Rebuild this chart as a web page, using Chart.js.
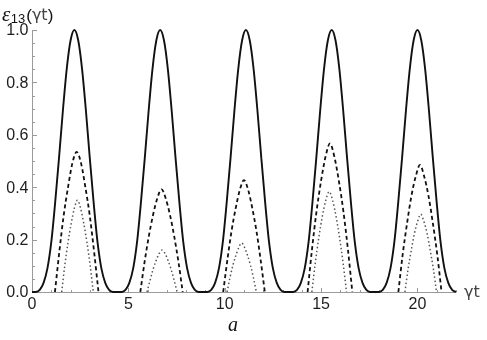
<!DOCTYPE html>
<html>
<head>
<meta charset="utf-8">
<script src="https://cdn.jsdelivr.net/npm/chart.js@4.4.1/dist/chart.umd.min.js"></script>
<style>
  html, body { margin: 0; padding: 0; background: #fff; }
  canvas { display: block; }
</style>
</head>
<body>
<canvas id="entanglement" width="487" height="340"></canvas>
<script>
// gamma*t values and epsilon_13
const solidT = [
    0, 0.2, 0.4, 0.6, 0.8, 1, 1.2, 1.4, 1.6, 1.8, 2, 2.2, 2.4, 2.6, 2.8, 3, 3.2, 3.4, 3.6, 3.8, 4, 4.2,
    4.45, 4.65, 4.85, 5.05, 5.25, 5.45, 5.65, 5.85, 6.05, 6.25, 6.45, 6.65, 6.85, 7.05, 7.25, 7.45, 7.65, 7.85, 8.05, 8.25, 8.45, 8.65,
    8.9, 9.1, 9.3, 9.5, 9.7, 9.9, 10.1, 10.3, 10.5, 10.7, 10.9, 11.1, 11.3, 11.5, 11.7, 11.9, 12.1, 12.3, 12.5, 12.7, 12.9, 13.1,
    13.35, 13.55, 13.75, 13.95, 14.15, 14.35, 14.55, 14.75, 14.95, 15.15, 15.35, 15.55, 15.75, 15.95, 16.15, 16.35, 16.55, 16.75, 16.95, 17.15, 17.35, 17.55,
    17.8, 18, 18.2, 18.4, 18.6, 18.8, 19, 19.2, 19.4, 19.6, 19.8, 20, 20.2, 20.4, 20.6, 20.8, 21, 21.2, 21.4, 21.6, 21.8, 22
]
const solidE = [
    0, 0, 0.008, 0.035, 0.09, 0.19, 0.34, 0.51, 0.69, 0.85, 0.96, 1, 0.96, 0.85, 0.69, 0.51, 0.34, 0.19, 0.09, 0.035, 0.008, 0,
    0, 0, 0.008, 0.035, 0.09, 0.19, 0.34, 0.51, 0.69, 0.85, 0.96, 1, 0.96, 0.85, 0.69, 0.51, 0.34, 0.19, 0.09, 0.035, 0.008, 0,
    0, 0, 0.008, 0.035, 0.09, 0.19, 0.34, 0.51, 0.69, 0.85, 0.96, 1, 0.96, 0.85, 0.69, 0.51, 0.34, 0.19, 0.09, 0.035, 0.008, 0,
    0, 0, 0.008, 0.035, 0.09, 0.19, 0.34, 0.51, 0.69, 0.85, 0.96, 1, 0.96, 0.85, 0.69, 0.51, 0.34, 0.19, 0.09, 0.035, 0.008, 0,
    0, 0, 0.008, 0.035, 0.09, 0.19, 0.34, 0.51, 0.69, 0.85, 0.96, 1, 0.96, 0.85, 0.69, 0.51, 0.34, 0.19, 0.09, 0.035, 0.008, 0
]

// null breaks the curve between pulses
const dashedT = [
    1.19, 1.42, 1.64, 1.87, 2.09, 2.32, 2.55, 2.77, 3.0, 3.22, 3.45, 4.5,
    5.62, 5.84, 6.06, 6.28, 6.50, 6.72, 6.94, 7.16, 7.38, 7.60, 7.82, 8.9,
    9.92, 10.14, 10.35, 10.57, 10.78, 11.0, 11.22, 11.43, 11.65, 11.86, 12.08, 13.3,
    14.30, 14.53, 14.76, 15.00, 15.23, 15.46, 15.69, 15.92, 16.16, 16.39, 16.62, 17.8,
    19.01, 19.23, 19.46, 19.68, 19.91, 20.13, 20.35, 20.58, 20.80, 21.03, 21.25
]
const dashedE = [
    0, 0.155, 0.29, 0.40, 0.49, 0.535, 0.49, 0.40, 0.29, 0.155, 0, null,
    0, 0.114, 0.212, 0.294, 0.357, 0.392, 0.357, 0.294, 0.212, 0.114, 0, null,
    0, 0.124, 0.231, 0.320, 0.389, 0.427, 0.389, 0.320, 0.231, 0.124, 0, null,
    0, 0.164, 0.306, 0.425, 0.516, 0.567, 0.516, 0.425, 0.306, 0.164, 0, null,
    0, 0.141, 0.262, 0.364, 0.441, 0.485, 0.441, 0.364, 0.262, 0.141, 0
]

const dottedT = [
    1.54, 1.70, 1.87, 2.03, 2.20, 2.36, 2.52, 2.69, 2.85, 3.02, 3.18, 4.5,
    5.97, 6.13, 6.28, 6.44, 6.59, 6.75, 6.91, 7.06, 7.22, 7.37, 7.53, 8.9,
    10.12, 10.27, 10.42, 10.58, 10.73, 10.88, 11.03, 11.18, 11.34, 11.49, 11.64, 13.3,
    14.52, 14.70, 14.88, 15.06, 15.24, 15.42, 15.60, 15.78, 15.96, 16.14, 16.32, 17.8,
    19.35, 19.51, 19.68, 19.84, 20.01, 20.17, 20.33, 20.50, 20.66, 20.83, 20.99
]
const dottedE = [
    0, 0.10, 0.19, 0.26, 0.32, 0.35, 0.32, 0.26, 0.19, 0.10, 0, null,
    0, 0.046, 0.086, 0.12, 0.146, 0.16, 0.146, 0.12, 0.086, 0.046, 0, null,
    0, 0.054, 0.101, 0.14, 0.17, 0.187, 0.17, 0.14, 0.101, 0.054, 0, null,
    0, 0.111, 0.207, 0.287, 0.349, 0.383, 0.349, 0.287, 0.207, 0.111, 0, null,
    0, 0.086, 0.16, 0.223, 0.27, 0.297, 0.27, 0.223, 0.16, 0.086, 0
]

const xTicks = [0, 5, 10, 15, 20]
const yTicks = [0, 0.2, 0.4, 0.6, 0.8, 1.0]

const toPoints = (ts, es) => ts.map((t, i) => ({x: t, y: es[i]}))

// mathematica-like axes: thin grey lines, ticks pointing inwards
const mmaAxes = {
    id: 'mmaAxes',
    beforeDatasetsDraw(chart) {
        const {ctx, scales: {x, y}} = chart
        const x0 = Math.round(x.getPixelForValue(0)) + 0.5
        const y0 = Math.round(y.getPixelForValue(0)) + 0.5
        ctx.save()
        ctx.strokeStyle = '#9a9a9a'
        ctx.lineWidth = 1
        ctx.beginPath()
        ctx.moveTo(x0, Math.round(y.getPixelForValue(1)))
        ctx.lineTo(x0, y0)
        ctx.lineTo(x.getPixelForValue(22), y0)
        // x ticks: major every 5, minor every 1
        for (let v = 0; v <= 22; v++) {
            const px = Math.round(x.getPixelForValue(v)) + 0.5
            const len = v % 5 === 0 ? 4.5 : 2.5
            ctx.moveTo(px, y0)
            ctx.lineTo(px, y0 - len)
        }
        // y ticks: major every 0.2, minor every 0.05
        for (let k = 0; k <= 20; k++) {
            const py = Math.round(y.getPixelForValue(k * 0.05)) + 0.5
            const len = k % 4 === 0 ? 4.5 : 2.5
            ctx.moveTo(x0, py)
            ctx.lineTo(x0 + len, py)
        }
        ctx.stroke()

        ctx.fillStyle = '#1e1e1e'
        ctx.font = '16px "Liberation Sans"'
        ctx.textAlign = 'center'
        ctx.textBaseline = 'middle'
        xTicks.forEach(v => ctx.fillText(String(v), x.getPixelForValue(v), y0 + 12))
        ctx.textAlign = 'right'
        yTicks.forEach(v => ctx.fillText(v.toFixed(1), x0 - 4, y.getPixelForValue(v) + 1))
        ctx.restore()
    },
    afterDraw(chart) {
        const {ctx} = chart
        ctx.save()
        ctx.textBaseline = 'alphabetic'
        ctx.textAlign = 'left'
        ctx.fillStyle = '#111'
        // y label: epsilon_13(gamma t)
        let cx = 2
        ctx.font = 'italic 21px "Liberation Serif"'
        ctx.fillText('ε', cx, 21)
        cx += ctx.measureText('ε').width + 0.5
        ctx.font = '13px "Liberation Sans"'
        ctx.fillText('13', cx, 23)
        cx += ctx.measureText('13').width + 1
        ctx.font = '17px "Liberation Sans"'
        ctx.fillText('(', cx, 21)
        cx += ctx.measureText('(').width
        ctx.fillStyle = '#444'
        ctx.font = '16px "DejaVu Sans"'
        ctx.fillText('γt', cx, 20)
        cx += ctx.measureText('γt').width
        ctx.fillStyle = '#111'
        ctx.font = '17px "Liberation Sans"'
        ctx.fillText(')', cx, 21)

        // x label at the end of the axis
        ctx.fillStyle = '#444'
        ctx.font = '16px "DejaVu Sans"'
        ctx.fillText('γt', 464, 297)

        // panel letter
        ctx.fillStyle = '#111'
        ctx.font = 'italic 20px "Liberation Serif"'
        ctx.textAlign = 'center'
        ctx.fillText('a', 233, 331)
        ctx.restore()
    }
}

const canvas = document.getElementById('entanglement')
const config = {
    type: 'line',
    data: {
        datasets: [
            {
                label: 'solid',
                data: toPoints(solidT, solidE),
                borderColor: '#111',
                borderWidth: 1.9,
            },
            {
                label: 'dashed',
                data: toPoints(dashedT, dashedE),
                borderColor: '#111',
                borderWidth: 1.8,
                borderDash: [4, 3],
            },
            {
                label: 'dotted',
                data: toPoints(dottedT, dottedE),
                borderColor: '#555',
                borderWidth: 1.5,
                borderDash: [1.5, 2.5],
            }
        ]
    },
    options: {
        responsive: false,
        animation: false,
        devicePixelRatio: 1,
        layout: {
            padding: {left: 32, right: 31, top: 30, bottom: 48}
        },
        elements: {
            point: {radius: 0, hoverRadius: 0},
            line: {cubicInterpolationMode: 'monotone', fill: false}
        },
        datasets: {
            line: {clip: false, spanGaps: false}
        },
        scales: {
            x: {type: 'linear', min: 0, max: 22, display: false},
            y: {min: 0, max: 1, display: false}
        },
        plugins: {
            legend: {display: false},
            tooltip: {enabled: false}
        }
    },
    plugins: [mmaAxes]
}
new Chart(canvas, config)
</script>
</body>
</html>
